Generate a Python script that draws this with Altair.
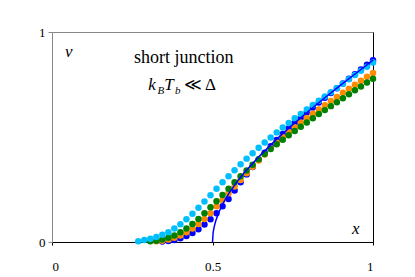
import altair as alt
import pandas as pd

# ---- data ----
x_grid = [0.25, 0.26875, 0.2875, 0.30625, 0.325, 0.34375, 0.3625, 0.38125, 0.4, 0.41875,
          0.4375, 0.45625, 0.475, 0.49375, 0.5125, 0.53125, 0.55, 0.56875, 0.5875, 0.60625,
          0.625, 0.64375, 0.6625, 0.68125, 0.7, 0.71875, 0.7375, 0.75625, 0.775, 0.79375,
          0.8125, 0.83125, 0.85, 0.86875, 0.8875, 0.90625, 0.925, 0.94375, 0.9625, 0.98125, 1.0]

blue_dots = [None, None, None, None, None, 0.002, 0.005, 0.010, 0.018, 0.029,
             0.043, 0.061, 0.083, 0.108, 0.137, 0.170, 0.205, 0.245, 0.285, 0.322,
             0.357, 0.392, 0.425, 0.456, 0.486, 0.514, 0.541, 0.567, 0.592, 0.617,
             0.641, 0.664, 0.687, 0.710, 0.732, 0.755, 0.777, 0.799, 0.822, 0.844, 0.866]

orange_dots = [None, None, None, None, 0.003, 0.006, 0.012, 0.020, 0.031, 0.046,
               0.064, 0.086, 0.110, 0.137, 0.170, 0.200, 0.232, 0.264, 0.295, 0.327,
               0.358, 0.388, 0.417, 0.446, 0.474, 0.500, 0.524, 0.547, 0.569, 0.590,
               0.611, 0.631, 0.651, 0.671, 0.691, 0.711, 0.730, 0.749, 0.768, 0.787, 0.805]

green_dots = [None, None, None, 0.003, 0.006, 0.012, 0.020, 0.031, 0.046, 0.064,
              0.086, 0.110, 0.137, 0.165, 0.194, 0.224, 0.254, 0.284, 0.313, 0.341,
              0.368, 0.394, 0.419, 0.443, 0.466, 0.487, 0.508, 0.529, 0.549, 0.569,
              0.589, 0.609, 0.628, 0.647, 0.666, 0.685, 0.704, 0.723, 0.741, 0.759, 0.777]

cyan_dots = [None, 0.004, 0.009, 0.016, 0.024, 0.034, 0.047, 0.064, 0.085, 0.108,
             0.135, 0.163, 0.193, 0.223, 0.254, 0.284, 0.313, 0.342, 0.370, 0.397,
             0.423, 0.449, 0.474, 0.498, 0.522, 0.545, 0.567, 0.589, 0.610, 0.631,
             0.652, 0.673, 0.693, 0.713, 0.733, 0.754, 0.775, 0.795, 0.815, 0.835, 0.855]

line_x = [0.5, 0.502, 0.505, 0.51, 0.52, 0.535, 0.55, 0.575, 0.6, 0.65, 0.7, 0.75,
          0.8, 0.85, 0.9, 0.95, 1.0]
line_y = [0.0, 0.045, 0.071, 0.100, 0.143, 0.190, 0.229, 0.284, 0.332, 0.415, 0.490,
          0.559, 0.624, 0.687, 0.748, 0.807, 0.866]

series_names = ["blue", "orange", "green", "cyan"]
series_colors = ["#0000ff", "#ff8c00", "#008000", "#00bfff"]

x_ticks = [0, 0.5, 1]
y_ticks = [0, 1]

# annotations (text, x, y, font size)
upright_text = ["short junction", "≪", "Δ"]
upright_x = [0.2555, 0.4112, 0.4766]
upright_y = [0.853, 0.723, 0.723]
upright_size = [18, 17, 17]

italic_text = ["ν", "x", "k", "B", "T", "b"]
italic_x = [0.0405, 0.9346, 0.300, 0.3287, 0.3497, 0.3832]
italic_y = [0.879, 0.036, 0.723, 0.705, 0.723, 0.705]
italic_size = [17, 17, 17, 11, 17, 11]

# ---- build tables ----
rows = []
for name, vals in zip(series_names, [blue_dots, orange_dots, green_dots, cyan_dots]):
    for xv, yv in zip(x_grid, vals):
        if yv is not None:
            rows.append({"x": xv, "y": yv, "series": name})
dots_df = pd.DataFrame(rows)
line_df = pd.DataFrame({"x": line_x, "y": line_y})
up_df = pd.DataFrame({"t": upright_text, "x": upright_x, "y": upright_y, "s": upright_size})
it_df = pd.DataFrame({"t": italic_text, "x": italic_x, "y": italic_y, "s": italic_size})

FONT = "'Liberation Serif', 'DejaVu Serif', 'Times New Roman', serif"
xs = alt.Scale(domain=[0, 1], nice=False, zero=False)
ys = alt.Scale(domain=[0, 1], nice=False, zero=False)

x_axis = alt.Axis(
    values=x_ticks, format=".1~f", title=None, grid=False,
    domainColor="black", domainWidth=1, tickColor="black", tickSize=3,
    labelPadding=15, labelFont=FONT, labelFontSize=13, labelColor="black")

dots = alt.Chart(dots_df).mark_circle(size=42, opacity=1).encode(
    x=alt.X("x:Q", scale=xs, axis=x_axis),
    y=alt.Y("y:Q", scale=ys, axis=alt.Axis(
        values=y_ticks, format="d", title=None, grid=False,
        domainColor="#888888", domainWidth=1, tickColor="#888888", tickSize=4,
        labelPadding=3, labelFont=FONT, labelFontSize=13, labelColor="black")),
    color=alt.Color("series:N", scale=alt.Scale(domain=series_names, range=series_colors),
                    legend=None),
)

line = alt.Chart(line_df).mark_line(color="#0000ff", strokeWidth=1.5).encode(
    x=alt.X("x:Q", scale=xs, axis=x_axis),
    y=alt.Y("y:Q", scale=ys, axis=alt.Axis(
        orient="right", labels=False, ticks=False, title=None, grid=False,
        domainColor="black", domainWidth=1)),
)

up = alt.Chart(up_df).mark_text(font=FONT, align="left", baseline="alphabetic",
                                color="black").encode(
    x=alt.X("x:Q", scale=xs, axis=x_axis),
    y=alt.Y("y:Q", scale=ys, axis=None),
    text="t:N",
    size=alt.Size("s:Q", scale=None),
)

it = alt.Chart(it_df).mark_text(font=FONT, fontStyle="italic", align="left",
                                baseline="alphabetic", color="black").encode(
    x=alt.X("x:Q", scale=xs, axis=x_axis),
    y=alt.Y("y:Q", scale=ys, axis=None),
    text="t:N",
    size=alt.Size("s:Q", scale=None),
)

chart = alt.layer(dots, line, up, it).resolve_axis(y="independent").properties(
    width=321, height=210,
    autosize=alt.AutoSizeParams(type="none"),
    padding={"left": 44, "top": 24, "right": 34, "bottom": 32},
).configure_view(stroke="#888888", strokeWidth=1)

chart.save("out.html", embed_options={"renderer": "svg", "actions": False})
